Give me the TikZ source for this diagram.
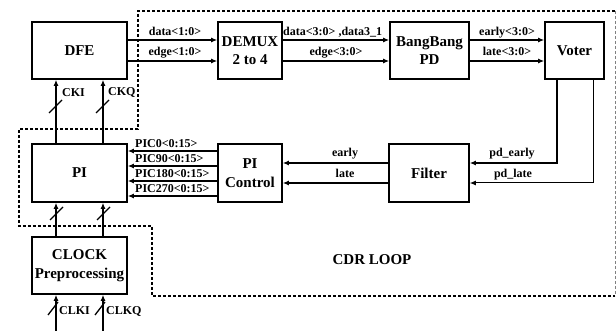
\documentclass[tikz,border=0pt]{standalone}
\usepackage{fontspec}
\setmainfont{Liberation Serif}
\usetikzlibrary{arrows.meta}
\begin{document}
\begin{tikzpicture}[x=1pt,y=-1pt,
  blk/.style={draw,line width=1.6pt,inner sep=1pt,align=center,font=\fontsize{15}{18.5}\selectfont\bfseries},
  arr/.style={line width=1.5pt,-{Latex[length=6pt,width=5pt]}},
  lbl/.style={font=\fontsize{12}{14}\selectfont\bfseries,inner sep=0pt},
  loopline/.style={line width=1.5pt,dash pattern=on 3pt off 2pt},
  slash/.style={line width=1.3pt}]
\useasboundingbox (0,0) rectangle (616,331);
% blocks
\node[blk,minimum width=95pt,minimum height=57pt] (dfe) at (79.5,50.5) {DFE};
\node[blk,minimum width=64pt,minimum height=57pt] (demux) at (250,50.5) {DEMUX\\2 to 4};
\node[blk,minimum width=79pt,minimum height=57pt] (bb) at (429.5,50.5) {BangBang\\PD};
\node[blk,minimum width=59pt,minimum height=57pt] (voter) at (574.5,50.5) {Voter};
\node[blk,minimum width=95pt,minimum height=58pt] (pi) at (79.5,173) {PI};
\node[blk,minimum width=64pt,minimum height=58pt] (pictl) at (250,173) {PI\\Control};
\node[blk,minimum width=80pt,minimum height=58pt] (filt) at (429,173) {Filter};
\node[blk,minimum width=95pt,minimum height=57pt] (clk) at (79.5,265.5) {CLOCK\\Preprocessing};
% CDR loop boundary
\draw[loopline] (615,11) -- (138,11) -- (138,129) -- (19,129) -- (19,226) -- (152,226) -- (152,296) -- (615,296);
\draw[loopline,gray,line width=0.8pt] (615,11) -- (615,296);
\node[font=\fontsize{15}{18}\selectfont\bfseries,inner sep=0pt] (cdr) at (372,260) {CDR LOOP};
% top row
\draw[arr] (dfe.east |- 0,40) -- (demux.west |- 0,40);
\draw[arr] (dfe.east |- 0,61) -- (demux.west |- 0,61);
\node[lbl,anchor=base] (l1) at (175,35.5) {data<1:0>};
\node[lbl,anchor=base] (l2) at (175,56) {edge<1:0>};
\draw[arr] (demux.east |- 0,40) -- (bb.west |- 0,40);
\draw[arr] (demux.east |- 0,61) -- (bb.west |- 0,61);
\node[lbl,anchor=base west] (l3) at (283,36) {data<3:0> ,data3\_1};
\node[lbl,anchor=base] (l4) at (336,56) {edge<3:0>};
\draw[arr] (bb.east |- 0,40) -- (voter.west |- 0,40);
\draw[arr] (bb.east |- 0,61) -- (voter.west |- 0,61);
\node[lbl,anchor=base] (l5) at (507,35.5) {early<3:0>};
\node[lbl,anchor=base] (l6) at (507,56) {late<3:0>};
% voter to filter
\draw[arr] (voter.south -| 557,0) |- (filt.east |- 0,163);
\draw[arr,line width=1pt] (voter.south -| 593,0) |- (filt.east |- 0,183);
\node[lbl,anchor=base] (l7) at (512,157) {pd\_early};
\node[lbl,anchor=base] (l8) at (513,178) {pd\_late};
% filter to PI control
\draw[arr] (filt.west |- 0,163) -- (pictl.east |- 0,163);
\draw[arr] (filt.west |- 0,183) -- (pictl.east |- 0,183);
\node[lbl,anchor=base] (l9) at (345,157) {early};
\node[lbl,anchor=base] (l10) at (345,178) {late};
% PI control to PI
\draw[arr] (pictl.west |- 0,151) -- (pi.east |- 0,151);
\draw[arr] (pictl.west |- 0,166) -- (pi.east |- 0,166);
\draw[arr] (pictl.west |- 0,181) -- (pi.east |- 0,181);
\draw[arr] (pictl.west |- 0,196) -- (pi.east |- 0,196);
\node[lbl,anchor=base west] (p0) at (135,147.5) {PIC0<0:15>};
\node[lbl,anchor=base west] (p1) at (135,162.5) {PIC90<0:15>};
\node[lbl,anchor=base west] (p2) at (135,177.5) {PIC180<0:15>};
\node[lbl,anchor=base west] (p3) at (135,192.5) {PIC270<0:15>};
% PI to DFE
\draw[arr] (pi.north -| 56,0) -- (dfe.south -| 56,0);
\draw[arr] (pi.north -| 103,0) -- (dfe.south -| 103,0);
\draw[slash] (49,113) -- (62,100);
\draw[slash] (96,113) -- (109,100);
\node[lbl,anchor=west] (cki) at (62,93) {CKI};
\node[lbl,anchor=west] (ckq) at (108,93) {CKQ};
% clock to PI
\draw[arr] (clk.north -| 56,0) -- (pi.south -| 56,0);
\draw[arr] (clk.north -| 103,0) -- (pi.south -| 103,0);
\draw[slash] (50,220) -- (63,207);
\draw[slash] (97,220) -- (110,207);
% inputs
\coordinate (in1) at (56,331);
\coordinate (in2) at (103,331);
\draw[arr] (in1) -- (clk.south -| in1);
\draw[arr] (in2) -- (clk.south -| in2);
\draw[slash] (48,315) -- (58,302);
\draw[slash] (95,315) -- (105,302);
\node[lbl,anchor=west] (clki) at (59,311) {CLKI};
\node[lbl,anchor=west] (clkq) at (106,311) {CLKQ};
\end{tikzpicture}
\end{document}
